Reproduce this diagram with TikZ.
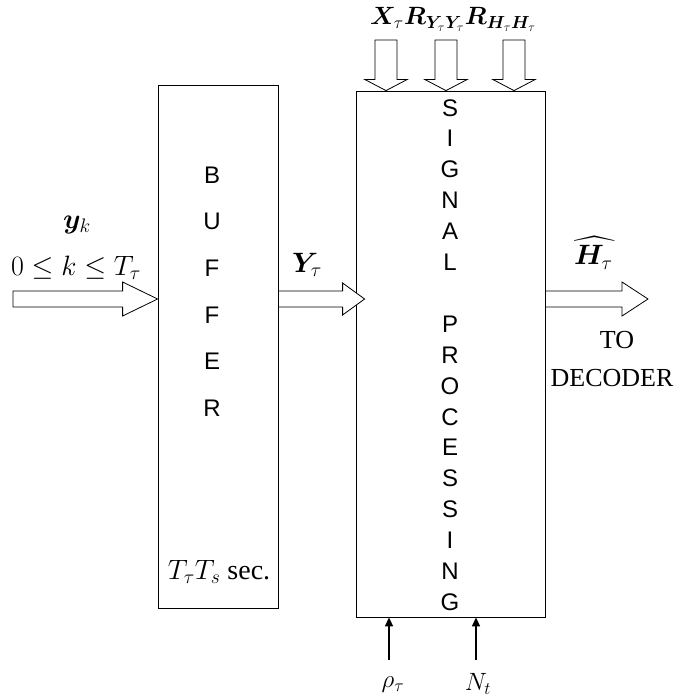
\RequirePackage{fix-cm}
\documentclass[tikz,border=0pt]{standalone}
\usepackage{amsmath}
\DeclareFontFamily{OMX}{cmex}{}
\DeclareFontShape{OMX}{cmex}{m}{n}{<-> cmex10}{}
\usepackage[no-math]{fontspec}
\setmainfont{Liberation Serif}
\newfontfamily\arialfont{Liberation Sans}
\usepackage{bm}
\usetikzlibrary{calc,arrows.meta}

% horizontal block arrow: start, tip, half shaft, half head, head length
\newcommand\myhfat[5]{%
  \draw[fat] let \p1=(#1), \p2=(#2) in
    (\x1,\y1+#3) -- (\x2-#5,\y1+#3) -- (\x2-#5,\y1+#4) -- (\x2,\y1)
    -- (\x2-#5,\y1-#4) -- (\x2-#5,\y1-#3) -- (\x1,\y1-#3) -- cycle;}
% downward block arrow: start, tip, half shaft, half head, head length
\newcommand\myvfat[5]{%
  \draw[fat] let \p1=(#1), \p2=(#2) in
    (\x1-#3,\y1) -- (\x1-#3,\y2+#5) -- (\x1-#4,\y2+#5) -- (\x1,\y2)
    -- (\x1+#4,\y2+#5) -- (\x1+#3,\y2+#5) -- (\x1+#3,\y1) -- cycle;}

\begin{document}
\begin{tikzpicture}[x=1pt,y=-1pt,
  fat/.style={draw=black, line width=0.8pt, fill=white, line join=miter},
  blockbox/.style={draw, line width=0.8pt, inner sep=0pt},
  mathlbl/.style={font=\fontsize{28}{32}\selectfont, inner sep=0pt},
  toplbl/.style={font=\fontsize{25}{30}\selectfont, inner sep=0pt},
  txtlbl/.style={font=\fontsize{26}{30}\selectfont, inner sep=0pt},
  letters/.style={align=center, inner sep=0pt},
  thinarrow/.style={line width=1.6pt, -{Triangle[length=9pt,width=8pt]}}
]
\useasboundingbox (0,0) rectangle (680,700);

% boxes
\node[blockbox, minimum width=120pt, minimum height=523pt] (buf) at (218,346.5) {};
\node[blockbox, minimum width=189pt, minimum height=526pt] (sp) at (450.5,354) {};

% box letters
\node[letters, font=\arialfont\fontsize{24}{46.6}\selectfont] (buftxt) at (212,291.5)
  {B\\U\\F\\F\\E\\R};
\node[letters, font=\arialfont\fontsize{24}{30.9}\selectfont] (sptxt) at (450,355)
  {S\\I\\G\\N\\A\\L\\\mbox{}\\P\\R\\O\\C\\E\\S\\S\\I\\N\\G};
\node[mathlbl] (sec) at (219,572) {$T_\tau T_s$ sec.};

% left input
\coordinate (in0) at (13,299);
\myhfat{in0}{buf.west |- in0}{8pt}{17pt}{35pt}
\node[mathlbl] (yk) at (77,225) {$\bm{y}_k$};
\node[mathlbl] (krange) at (76,268) {$0\le k\le T_\tau$};

% buffer to signal processing
\coordinate (m0) at (buf.east |- in0);
\coordinate (m1) at ($(sp.west |- in0)+(9,0)$);
\myhfat{m0}{m1}{8pt}{16pt}{22pt}
\node[mathlbl] (Ylbl) at (307,265) {$\bm{Y}_\tau$};

% output
\coordinate (o0) at (sp.east |- in0);
\coordinate (o1) at (648,299);
\myhfat{o0}{o1}{8pt}{17pt}{26pt}
\node[mathlbl] (Hlbl) at (595,253) {$\widehat{\bm{H}_\tau\mkern2mu}$};
\node[txtlbl] (to) at (617,340) {TO};
\node[txtlbl] (dec) at (612,378) {DECODER};

% top inputs
\coordinate (t1) at (386,40);
\coordinate (t2) at (446,40);
\coordinate (t3) at (514,40);
\myvfat{t1}{t1 |- sp.north}{11pt}{21pt}{11pt}
\myvfat{t2}{t2 |- sp.north}{11pt}{21pt}{11pt}
\myvfat{t3}{t3 |- sp.north}{11pt}{21pt}{11pt}
\node[toplbl, anchor=base west] (lx) at (370,25) {$\bm{X}_\tau$};
\node[toplbl, anchor=base west] (lryy) at (lx.base east) {$\bm{R}_{\bm{Y}_\tau\bm{Y}_\tau}$};
\node[toplbl, anchor=base west] (lrhh) at (lryy.base east) {$\bm{R}_{\bm{H}_\tau\bm{H}_\tau}$};

% bottom inputs
\coordinate (b1) at (389,660);
\coordinate (b2) at (476,660);
\draw[thinarrow] (b1) -- (b1 |- sp.south);
\draw[thinarrow] (b2) -- (b2 |- sp.south);
\node[toplbl] (rho) at (393,685) {$\rho_\tau$};
\node[toplbl] (Nt) at (478,684) {$N_t$};
\end{tikzpicture}
\end{document}
